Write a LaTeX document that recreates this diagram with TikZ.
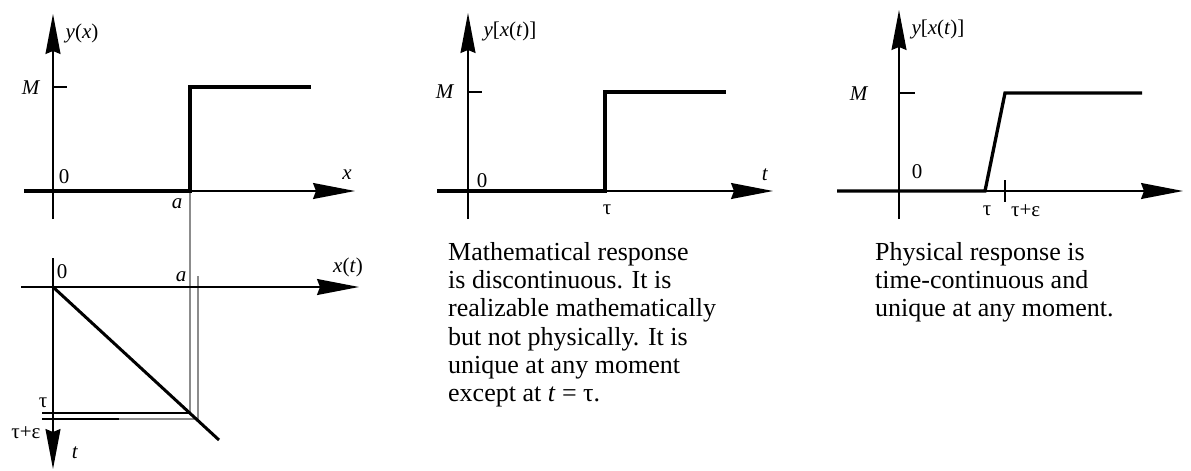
\documentclass[tikz,border=0pt]{standalone}
\usepackage{fontspec}
\setmainfont{Liberation Serif}
\usetikzlibrary{arrows.meta}
\tikzset{
  axisline/.style={line width=1.4pt,-{Stealth[length=42pt,width=16pt,inset=3pt]}},
  axisv/.style={line width=1.4pt,-{Stealth[length=40pt,width=15pt,inset=3pt]}},
  thinline/.style={line width=1.4pt},
  curve/.style={line width=3.3pt,line join=miter},
  guide/.style={line width=1.4pt,draw=black!45},
  lab/.style={inner sep=0pt,font=\fontsize{21}{24}\selectfont},
  para/.style={inner sep=0pt,anchor=north west,align=left,font=\fontsize{26}{28.3}\selectfont}
}
\begin{document}
\begin{tikzpicture}[x=1pt,y=-1pt]
\useasboundingbox (0,0) rectangle (1191,471);
% ---------- panel 1 : y(x)
\coordinate (A1b) at (53,219); \coordinate (A1t) at (53,14);
\coordinate (X1l) at (24,191); \coordinate (X1r) at (355,191);
\coordinate (S1a) at (190,191); \coordinate (S1b) at (190,87); \coordinate (S1c) at (311,87);
\coordinate (T1a) at (53,87); \coordinate (T1b) at (67,87);
\coordinate (G1b) at (190,413);
% ---------- lower panel : x(t)
\coordinate (V2t) at (53,258); \coordinate (V2b) at (53,469);
\coordinate (H2l) at (21,287); \coordinate (H2r) at (359,287);
\coordinate (O2) at (53,287); \coordinate (D2e) at (219,440);
\coordinate (L1a) at (42,413);
\coordinate (L2a) at (42,419); \coordinate (L2m) at (119,419); \coordinate (L2b) at (198,419);
\coordinate (G2t) at (198,276);
% guides
\draw[guide] (S1a) -- (G1b);
\draw[guide] (G2t) -- (L2b) -- (L2m);
\draw[thinline] (L1a) -- (G1b);
\draw[thinline] (L2a) -- (L2m);
% axes panel 1
\draw[axisv] (A1b) -- (A1t);
\draw[axisline] (X1l) -- (X1r);
\draw[thinline] (T1a) -- (T1b);
\draw[curve] (X1l) -- (S1a) -- (S1b) -- (S1c);
% axes lower panel
\draw[axisv] (V2t) -- (V2b);
\draw[axisline] (H2l) -- (H2r);
\draw[line width=3pt] (O2) -- (D2e);
% labels panel 1
\node[lab] (m1) at (31,88) {\textit{M}};
\node[lab] (yx) at (82,33) {\textit{y}(\textit{x})};
\node[lab] (z1) at (64,177) {0};
\node[lab] (xl) at (347,175) {\textit{x}};
\node[lab] (a1) at (177,204) {\textit{a}};
% labels lower panel
\node[lab] (z2) at (62,272) {0};
\node[lab] (a2) at (181,277) {\textit{a}};
\node[lab] (xt) at (348,267) {\textit{x}(\textit{t})};
\node[lab] (tau1) at (43,403) {τ};
\node[lab] (taue1) at (26,433) {τ+ε};
\node[lab] (tl) at (75,453) {\textit{t}};
% ---------- panel 2
\coordinate (A2b) at (468,219); \coordinate (A2t) at (468,13);
\coordinate (X2l) at (437,191); \coordinate (X2r) at (773,191);
\coordinate (S2a) at (605,191); \coordinate (S2b) at (605,92); \coordinate (S2c) at (726,92);
\coordinate (T2a) at (468,92); \coordinate (T2b) at (482,92);
\draw[axisv] (A2b) -- (A2t);
\draw[axisline] (X2l) -- (X2r);
\draw[thinline] (T2a) -- (T2b);
\draw[curve] (X2l) -- (S2a) -- (S2b) -- (S2c);
\node[lab] (m2) at (445,92) {\textit{M}};
\node[lab] (yxt2) at (510,31) {\textit{y}[\textit{x}(\textit{t})]};
\node[lab] (z3) at (482,181) {0};
\node[lab] (t2) at (765,175) {\textit{t}};
\node[lab] (tau2) at (607,210) {τ};
\node[para] (txt2) at (448,242) {Mathematical response\\is discontinuous. It is\\realizable mathematically\\but not physically. It is\\unique at any moment\\except at \textit{t} = τ.};
% ---------- panel 3
\coordinate (A3b) at (899,219); \coordinate (A3t) at (899,10);
\coordinate (X3l) at (837,191); \coordinate (X3r) at (1183,191);
\coordinate (S3a) at (985,191); \coordinate (S3b) at (1005,93); \coordinate (S3c) at (1142,93);
\coordinate (T3a) at (899,93); \coordinate (T3b) at (915,93);
\coordinate (K3a) at (1005,180); \coordinate (K3b) at (1005,202);
\draw[axisv] (A3b) -- (A3t);
\draw[axisline] (X3l) -- (X3r);
\draw[thinline] (T3a) -- (T3b);
\draw[thinline] (K3a) -- (K3b);
\draw[curve] (X3l) -- (S3a) -- (S3b) -- (S3c);
\node[lab] (m3) at (859,94) {\textit{M}};
\node[lab] (yxt3) at (938,29) {\textit{y}[\textit{x}(\textit{t})]};
\node[lab] (z4) at (917,172) {0};
\node[lab] (tau3) at (987,211) {τ};
\node[lab,anchor=west] (taue3) at (1011,211) {τ+ε};
\node[para] (txt3) at (875,242) {Physical response is\\time-continuous and\\unique at any moment.};
\end{tikzpicture}
\end{document}
